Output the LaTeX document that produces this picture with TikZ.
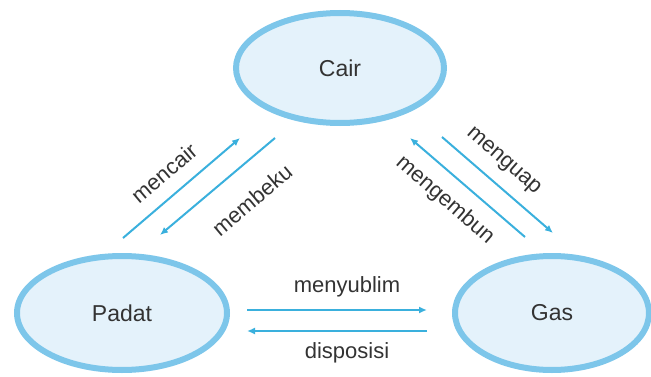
\documentclass[tikz,border=0pt]{standalone}
\usepackage{fontspec}
\setmainfont{Liberation Sans}
\usetikzlibrary{shapes.geometric,arrows.meta}
\definecolor{ringblue}{HTML}{7DC6EA}
\definecolor{fillblue}{HTML}{E4F2FB}
\definecolor{arrowblue}{HTML}{3AB0DD}
\definecolor{txt}{HTML}{333333}
\tikzset{
  statenode/.style={ellipse, draw=ringblue, fill=fillblue, line width=6pt,
    inner sep=0pt, text=txt, font=\fontsize{23}{26}\selectfont},
  flow/.style={draw=arrowblue, line width=2pt, -{Latex[length=8pt,width=7pt]}},
  lbl/.style={text=txt, font=\fontsize{22}{25}\selectfont, inner sep=0pt}
}
\begin{document}
\begin{tikzpicture}[x=1pt,y=1pt]
\useasboundingbox (0,0) rectangle (651,376);
\node[statenode, minimum width=208pt, minimum height=110pt] (cair) at (340,308) {Cair};
\node[statenode, minimum width=210pt, minimum height=114pt] (padat) at (122,63) {Padat};
\node[statenode, minimum width=194pt, minimum height=114pt] (gas) at (552,63) {Gas};
% arrow end points
\coordinate (mcA) at (123,138); \coordinate (mcB) at (240,238);
\coordinate (mbA) at (275,238); \coordinate (mbB) at (160,141);
\coordinate (mgA) at (442,239); \coordinate (mgB) at (553,143);
\coordinate (meA) at (525,139); \coordinate (meB) at (410,238);
\coordinate (msA) at (247,66);  \coordinate (msB) at (427,66);
\coordinate (dpA) at (427,45);  \coordinate (dpB) at (247,45);
\draw[flow] (mcA) -- (mcB);
\draw[flow] (mbA) -- (mbB);
\draw[flow] (mgA) -- (mgB);
\draw[flow] (meA) -- (meB);
\draw[flow] (msA) -- (msB);
\draw[flow] (dpA) -- (dpB);
\node[lbl, rotate=40] (lmencair) at (164,203) {mencair};
\node[lbl, rotate=40] (lmembeku) at (252,176) {membeku};
\node[lbl, rotate=-41] (lmenguap) at (503,214) {menguap};
\node[lbl, rotate=-41] (lmengembun) at (445,176) {mengembun};
\node[lbl] (lmenyublim) at (347,89) {menyublim};
\node[lbl] (ldisposisi) at (347,23) {disposisi};
\end{tikzpicture}
\end{document}
